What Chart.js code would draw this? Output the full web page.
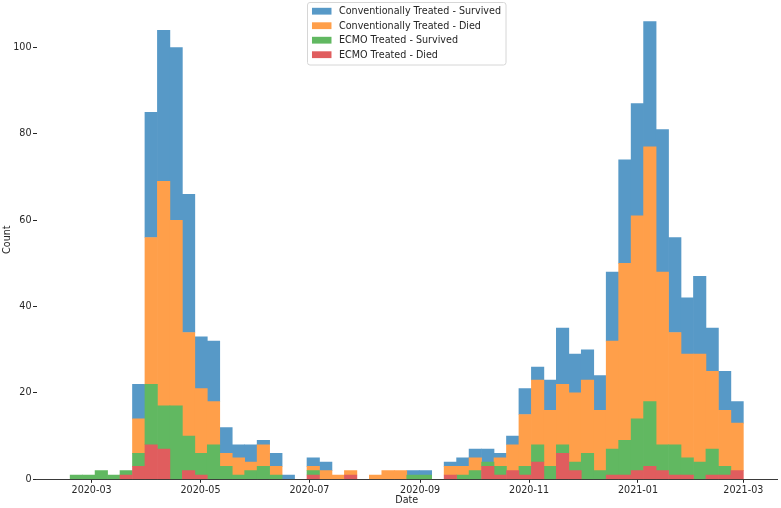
<!DOCTYPE html>
<html>
<head>
<meta charset="utf-8">
<script src="https://cdn.jsdelivr.net/npm/chart.js@4.4.1/dist/chart.umd.min.js"></script>
<style>
html,body{margin:0;padding:0;background:#ffffff;}
#wrap{width:781px;height:508px;position:relative;}
canvas{display:block;}
</style>
</head>
<body>
<div id="wrap"><canvas id="chart" width="781" height="508"></canvas></div>
<script>
// ---- data (weekly histogram bins between these two dates) ----
const binStartDate = '2020-02-18';
const binEndDate = '2021-03-01';

const seriesNames = [
  'Conventionally Treated - Survived',
  'Conventionally Treated - Died',
  'ECMO Treated - Survived',
  'ECMO Treated - Died'
];

const convSurvived = [0,0,0,0,0,8,29,35,40,32,12,14,6,3,4,1,3,1,0,2,2,0,0,0,0,0,0,1,1,0,1,2,2,3,1,2,6,3,7,13,9,7,8,16,24,26,29,33,22,13,18,10,9,5];
const convDied     = [0,0,0,0,0,8,34,52,43,24,15,10,3,4,2,5,2,0,0,1,2,1,1,0,1,2,2,0,0,0,2,2,3,0,2,6,12,15,13,14,16,17,14,25,41,47,59,40,26,24,25,18,13,11];
const ecmoSurvived = [1,1,2,1,1,3,14,10,17,8,5,8,3,1,2,3,1,0,0,1,0,0,0,0,0,0,0,1,1,0,0,1,2,1,2,0,2,4,3,2,2,6,2,6,8,12,15,6,7,4,4,6,2,0];
const ecmoDied     = [0,0,0,0,1,3,8,7,0,2,1,0,0,0,0,0,0,0,0,1,0,0,1,0,0,0,0,0,0,0,1,0,0,3,1,2,1,4,0,6,2,0,0,1,1,2,3,2,1,1,0,1,1,2];

const xTickLabels = ['2020-03','2020-05','2020-07','2020-09','2020-11','2021-01','2021-03'];
const yTickValues = [0,20,40,60,80,100];

// ---- helpers ----
const EPOCH = Date.parse('2020-01-01T00:00:00Z');
function dayOf(s){ return (Date.parse(s + 'T00:00:00Z') - EPOCH) / 86400000; }

const startDay = dayOf(binStartDate);
const endDay = dayOf(binEndDate);
const nBins = convSurvived.length;
const binW = (endDay - startDay) / nBins;
const centers = convSurvived.map((_, i) => startDay + binW * (i + 0.5));
const span = endDay - startDay;

const colors = {
  convSurvived: '#5799c7',
  convDied: '#ff9f4a',
  ecmoSurvived: '#61b861',
  ecmoDied: '#e05d5e'
};
const legendColors = [colors.convSurvived, colors.convDied, colors.ecmoSurvived, colors.ecmoDied];

function toPoints(arr){ return arr.map((v, i) => ({x: centers[i], y: v === 0 ? null : v})); }

const FONT = '"DejaVu Sans", sans-serif';
const TEXT = '#262626';
const FS = 9.6;

Chart.defaults.font.family = FONT;
Chart.defaults.font.size = FS;
Chart.defaults.color = TEXT;

const overlayPlugin = {
  id: 'overlay',
  afterDraw(chart){
    const ctx = chart.ctx;
    const ca = chart.chartArea;
    ctx.save();
    ctx.font = FS + 'px ' + FONT;
    // axis titles
    ctx.fillStyle = TEXT;
    ctx.textAlign = 'center';
    ctx.textBaseline = 'middle';
    ctx.fillText('Date', (ca.left + ca.right) / 2, 500);
    ctx.save();
    ctx.translate(7, (ca.top + ca.bottom) / 2);
    ctx.rotate(-Math.PI / 2);
    ctx.fillText('Count', 0, 0);
    ctx.restore();

    // legend (upper center, inside the axes)
    let maxW = 0;
    seriesNames.forEach(n => { maxW = Math.max(maxW, ctx.measureText(n).width); });
    const padL = 4.5, handleW = 19.5, gap = 7.5, padR = 5;
    const w = padL + handleW + gap + maxW + padR;
    const h = 62.5;
    const x0 = (ca.left + ca.right) / 2 - w / 2;
    const y0 = 2.5;
    const r = 2.5;
    ctx.beginPath();
    ctx.moveTo(x0 + r, y0);
    ctx.lineTo(x0 + w - r, y0);
    ctx.arcTo(x0 + w, y0, x0 + w, y0 + r, r);
    ctx.lineTo(x0 + w, y0 + h - r);
    ctx.arcTo(x0 + w, y0 + h, x0 + w - r, y0 + h, r);
    ctx.lineTo(x0 + r, y0 + h);
    ctx.arcTo(x0, y0 + h, x0, y0 + h - r, r);
    ctx.lineTo(x0, y0 + r);
    ctx.arcTo(x0, y0, x0 + r, y0, r);
    ctx.closePath();
    ctx.fillStyle = 'rgba(255,255,255,0.8)';
    ctx.fill();
    ctx.strokeStyle = '#d6d6d6';
    ctx.lineWidth = 1;
    ctx.stroke();
    ctx.textAlign = 'left';
    seriesNames.forEach((n, k) => {
      const cy = 11.2 + k * 14.5;
      ctx.fillStyle = legendColors[k];
      ctx.fillRect(x0 + padL, cy - 3.4, handleW, 6.8);
      ctx.fillStyle = TEXT;
      ctx.fillText(n, x0 + padL + handleW + gap, cy + 0.5);
    });
    ctx.restore();
  }
};

new Chart(document.getElementById('chart'), {
  type: 'bar',
  data: {
    datasets: [
      {label: seriesNames[3], data: toPoints(ecmoDied), backgroundColor: colors.ecmoDied},
      {label: seriesNames[2], data: toPoints(ecmoSurvived), backgroundColor: colors.ecmoSurvived},
      {label: seriesNames[1], data: toPoints(convDied), backgroundColor: colors.convDied},
      {label: seriesNames[0], data: toPoints(convSurvived), backgroundColor: colors.convSurvived}
    ]
  },
  options: {
    responsive: false,
    animation: false,
    events: [],
    layout: {padding: {left: 0, right: 4, top: 0, bottom: 0}},
    datasets: {bar: {barPercentage: 1, categoryPercentage: 1, borderWidth: 0}},
    plugins: {legend: {display: false}, tooltip: {enabled: false}, title: {display: false}},
    scales: {
      x: {
        type: 'linear',
        stacked: true,
        offset: false,
        min: startDay - 0.05 * span,
        max: endDay + 0.05 * span,
        z: 1,
        border: {display: true, color: '#3a3a3a', width: 1},
        grid: {display: true, drawOnChartArea: false, drawTicks: true, tickLength: 3.5, color: TEXT, offset: false},
        ticks: {
          color: TEXT, padding: 1.5, maxRotation: 0, autoSkip: false,
          font: {family: FONT, size: FS},
          callback: (v) => { const i = xTickLabels.findIndex(l => dayOf(l + '-01') === v); return i >= 0 ? xTickLabels[i] : ''; }
        },
        afterBuildTicks: (scale) => { scale.ticks = xTickLabels.map(l => ({value: dayOf(l + '-01')})); },
        afterFit: (scale) => { scale.height = 28.7; scale.paddingLeft = 0; scale.paddingRight = 0; }
      },
      y: {
        type: 'linear',
        stacked: true,
        min: 0,
        max: 111,
        border: {display: false},
        grid: {display: true, drawOnChartArea: false, drawTicks: true, tickLength: 3.5, color: TEXT},
        ticks: {color: TEXT, padding: 1.5, font: {family: FONT, size: FS}},
        afterBuildTicks: (scale) => { scale.ticks = yTickValues.map(v => ({value: v})); },
        afterFit: (scale) => { scale.width = 36.5; scale.paddingTop = 0; scale.paddingBottom = 0; }
      }
    }
  },
  plugins: [overlayPlugin]
});
</script>
</body>
</html>
